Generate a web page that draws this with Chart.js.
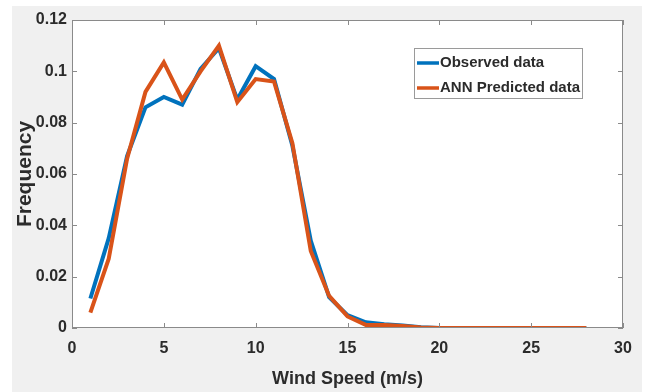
<!DOCTYPE html>
<html>
<head>
<meta charset="utf-8">
<script src="https://cdn.jsdelivr.net/npm/chart.js@4/dist/chart.umd.min.js"></script>
<style>
  html, body { margin: 0; padding: 0; background: #ffffff; }
  #wrap { width: 646px; height: 392px; }
</style>
</head>
<body>
<div id="wrap"><canvas id="c" width="646" height="392"></canvas></div>
<script>
const windSpeed = [1,2,3,4,5,6,7,8,9,10,11,12,13,14,15,16,17,18,19,20,21,22,23,24,25,26,27,28];
const observed  = [0.0115,0.035,0.067,0.086,0.090,0.087,0.101,0.109,0.089,0.102,0.097,0.071,0.034,0.012,0.005,0.0022,0.0015,0.001,0.0003,0,0,0,0,0,0,0,0,0];
const predicted = [0.006,0.027,0.066,0.092,0.1035,0.089,0.100,0.110,0.088,0.097,0.096,0.072,0.030,0.0125,0.0045,0.0012,0.0012,0.0008,0.0002,0,0,0,0,0,0,0,0,0];
const seriesLabels = ['Observed data', 'ANN Predicted data'];
const xTicks = [0,5,10,15,20,25,30];
const yTicks = [0,0.02,0.04,0.06,0.08,0.1,0.12];

const TEXT = '#2b2b2b';
const AXIS = '#8a8a8a';
const FONT = 'Liberation Sans, Arial, sans-serif';

const bgPlugin = {
  id: 'bg',
  beforeDraw(chart) {
    const ctx = chart.ctx, a = chart.chartArea;
    ctx.save();
    ctx.fillStyle = '#ffffff';
    ctx.fillRect(0, 0, chart.width, chart.height);
    ctx.fillStyle = '#f0f0f0';
    ctx.fillRect(12, 6, 630, 386);
    ctx.fillStyle = '#ffffff';
    ctx.fillRect(a.left, a.top, a.right - a.left, a.bottom - a.top);
    ctx.restore();
  }
};

const boxPlugin = {
  id: 'box',
  afterDraw(chart) {
    const ctx = chart.ctx, a = chart.chartArea;
    const xs = chart.scales.x, ys = chart.scales.y;
    ctx.save();
    ctx.strokeStyle = AXIS;
    ctx.lineWidth = 1;
    ctx.strokeRect(a.left + 0.5, a.top + 0.5, a.right - a.left - 1, a.bottom - a.top - 1);
    const L = 5;
    ctx.beginPath();
    xTicks.forEach(v => {
      const px = Math.round(xs.getPixelForValue(v)) + 0.5;
      ctx.moveTo(px, a.bottom); ctx.lineTo(px, a.bottom - L);
      ctx.moveTo(px, a.top); ctx.lineTo(px, a.top + L);
    });
    yTicks.forEach(v => {
      const py = Math.round(ys.getPixelForValue(v)) + 0.5;
      ctx.moveTo(a.left, py); ctx.lineTo(a.left + L, py);
      ctx.moveTo(a.right, py); ctx.lineTo(a.right - L, py);
    });
    ctx.stroke();

    // legend box
    const bx = 414, by = 48, bw = 168, bh = 50;
    ctx.fillStyle = '#ffffff';
    ctx.fillRect(bx, by, bw, bh);
    ctx.strokeStyle = '#9a9a9a';
    ctx.strokeRect(bx + 0.5, by + 0.5, bw, bh);
    const rows = [63, 88];
    chart.data.datasets.slice().sort((p, q) => p.legendIndex - q.legendIndex).forEach((ds, i) => {
      const y = rows[i];
      ctx.strokeStyle = ds.borderColor;
      ctx.lineWidth = 3.5;
      ctx.beginPath();
      ctx.moveTo(417, y); ctx.lineTo(439, y);
      ctx.stroke();
      ctx.fillStyle = TEXT;
      ctx.font = 'bold 15px ' + FONT;
      ctx.textBaseline = 'middle';
      ctx.textAlign = 'left';
      ctx.fillText(ds.label, 440, y);
    });
    ctx.restore();
  }
};

new Chart(document.getElementById('c'), {
  type: 'line',
  data: {
    datasets: [
      {
        label: seriesLabels[0],
        legendIndex: 0,
        data: windSpeed.map((x, i) => ({x: x, y: observed[i]})),
        borderColor: '#0072BD',
        borderWidth: 4,
        pointRadius: 0,
        tension: 0,
        fill: false,
        order: 1
      },
      {
        label: seriesLabels[1],
        legendIndex: 1,
        data: windSpeed.map((x, i) => ({x: x, y: predicted[i]})),
        borderColor: '#D95319',
        borderWidth: 4,
        pointRadius: 0,
        tension: 0,
        fill: false,
        order: 0
      }
    ]
  },
  options: {
    responsive: false,
    devicePixelRatio: 1,
    animation: false,
    layout: { padding: { top: 20, right: 23, left: 0, bottom: 0 } },
    plugins: { legend: { display: false }, tooltip: { enabled: false } },
    scales: {
      x: {
        type: 'linear',
        min: 0, max: 30,
        afterFit(s) { s.height = 64; },
        afterBuildTicks(s) { s.ticks = xTicks.map(v => ({value: v})); },
        grid: { display: false, drawTicks: false },
        border: { display: false },
        ticks: {
          padding: 11,
          color: TEXT,
          font: { family: FONT, size: 16, weight: 'bold' },
          maxRotation: 0,
          callback: v => String(v)
        },
        title: {
          display: true,
          text: 'Wind Speed (m/s)',
          color: TEXT,
          font: { family: FONT, size: 18, weight: 'bold' },
          padding: { top: 0, bottom: 2 }
        }
      },
      y: {
        type: 'linear',
        min: 0, max: 0.12,
        afterFit(s) { s.width = 72; },
        afterBuildTicks(s) { s.ticks = yTicks.map(v => ({value: v})); },
        grid: { display: false, drawTicks: false },
        border: { display: false },
        ticks: {
          padding: 5,
          color: TEXT,
          font: { family: FONT, size: 16, weight: 'bold' },
          callback: v => String(Number(v.toFixed(2)))
        },
        title: {
          display: true,
          text: 'Frequency',
          color: TEXT,
          font: { family: FONT, size: 21, weight: 'bold' },
          padding: { top: 13, bottom: 0 }
        }
      }
    }
  },
  plugins: [bgPlugin, boxPlugin]
});
</script>
</body>
</html>
